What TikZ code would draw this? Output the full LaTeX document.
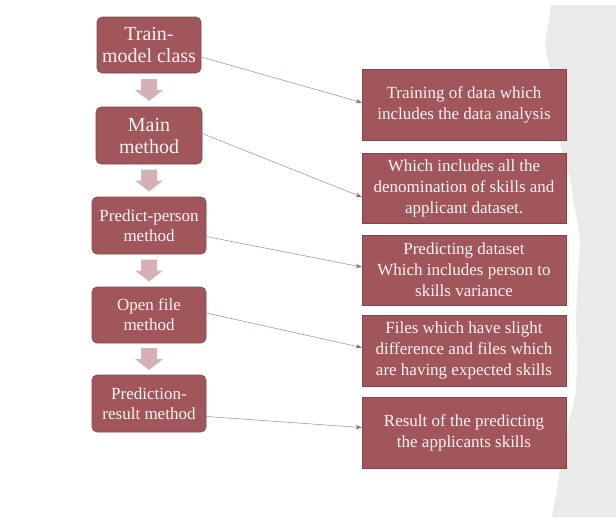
\documentclass[tikz,border=0pt]{standalone}
\usepackage{fontspec}
\setmainfont{Liberation Serif}
\usetikzlibrary{arrows.meta,calc}
\definecolor{boxred}{HTML}{A0565B}
\definecolor{boxedge}{HTML}{84444A}
\definecolor{boxtext}{HTML}{FBF3F3}
\definecolor{arrowpink}{HTML}{D5B0B4}
\definecolor{linkgray}{HTML}{A08688}
\definecolor{papergray}{HTML}{EAEAEA}
\tikzset{
  stepbox/.style={draw=boxedge, line width=0.6pt, fill=boxred, text=boxtext,
    rounded corners=5pt, align=center, inner sep=0pt, anchor=center},
  bigtext/.style={font=\fontsize{20}{22}\selectfont},
  smalltext/.style={font=\fontsize{17}{20}\selectfont},
  notebox/.style={draw=boxedge, line width=0.6pt, fill=boxred, text=boxtext,
    align=center, inner sep=0pt, minimum width=204pt, minimum height=71pt,
    font=\fontsize{17}{21}\selectfont, anchor=center},
  link/.style={draw=linkgray, line width=0.5pt,
    -{Stealth[length=6pt,width=4pt,color=boxred,fill=boxred]}},
  downarrow/.pic={
    \fill[arrowpink] (-8,-11) -- (8,-11) -- (8,0) -- (14,0) -- (0,11) -- (-14,0) -- (-8,0) -- cycle;
  }
}
\begin{document}
\begin{tikzpicture}[x=1pt,y=-1pt]
\useasboundingbox (0,0) rectangle (616,517);
% torn paper background
\fill[papergray] (551,5) -- (549,20) -- (546,35) -- (545,45) -- (547,55) -- (549,65)
  -- (552,90) -- (556,115) -- (558,130) -- (560,145) -- (566,165) -- (570,178)
  -- (573,200) -- (577,220) -- (580,240) -- (579,260) -- (577,290) -- (576,320)
  -- (577,360) -- (576,390) -- (573,405) -- (569,420) -- (565,450) -- (560,470)
  -- (557,490) -- (552,517) -- (616,517) -- (616,5) -- cycle;

% left column
\node[stepbox,bigtext,minimum width=104pt,minimum height=56pt] (l1) at (149,45) {Train-\\model class};
\node[stepbox,bigtext,minimum width=106pt,minimum height=57pt] (l2) at (149,135.5) {Main\\method};
\node[stepbox,smalltext,minimum width=114pt,minimum height=57pt] (l3) at (149,225.5) {Predict-person\\method};
\node[stepbox,smalltext,minimum width=114pt,minimum height=56pt] (l4) at (149,315) {Open file\\method};
\node[stepbox,smalltext,minimum width=114pt,minimum height=57pt] (l5) at (149,403.5) {Prediction-\\result method};

% down arrows
\pic at ($(l1.south)!0.5!(l2.north)$) {downarrow};
\pic at ($(l2.south)!0.5!(l3.north)$) {downarrow};
\pic at ($(l3.south)!0.5!(l4.north)$) {downarrow};
\pic at ($(l4.south)!0.5!(l5.north)$) {downarrow};

% right column
\node[notebox] (r1) at (464,104.5) {Training of data which\\includes the data analysis};
\node[notebox,minimum height=70pt] (r2) at (464,188) {Which includes all the\\denomination of skills and\\applicant dataset.};
\node[notebox,minimum height=70pt] (r3) at (464,270) {Predicting dataset\\Which includes person to\\skills variance};
\node[notebox] (r4) at (464,350.5) {Files which have slight\\difference and files which\\are having expected skills};
\node[notebox] (r5) at (464,432.5) {Result of the predicting\\the applicants skills};

% connectors
\draw[link] ([yshift=-12pt]l1.east) -- ([yshift=2pt]r1.west);
\draw[link] ([yshift=2pt]l2.east) -- ([yshift=-9pt]r2.west);
\draw[link] ([yshift=-11pt]l3.east) -- ([yshift=3pt]r3.west);
\draw[link] ([yshift=2pt]l4.east) -- ([yshift=3pt]r4.west);
\draw[link] ([yshift=-13pt]l5.east) -- ([yshift=5pt]r5.west);
\end{tikzpicture}
\end{document}
